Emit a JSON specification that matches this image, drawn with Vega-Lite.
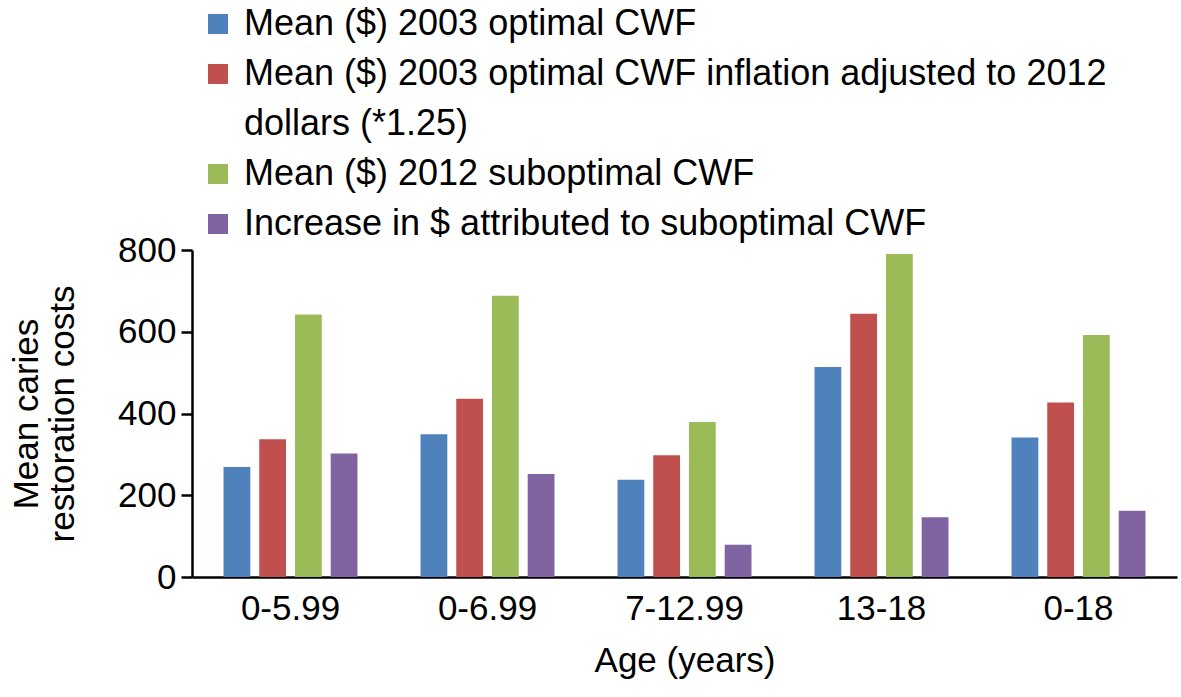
{
  "$schema": "https://vega.github.io/schema/vega-lite/v6.json",
  "width": 985,
  "height": 327,
  "autosize": {"type": "none"},
  "padding": {"left": 192, "top": 250, "right": 4, "bottom": 120},
  "background": "white",
  "data": {
    "values": [
      {"age": "0-5.99", "series": "Mean ($) 2003 optimal CWF", "value": 269},
      {"age": "0-5.99", "series": "Mean ($) 2003 optimal CWF inflation adjusted to 2012 dollars (*1.25)", "value": 337},
      {"age": "0-5.99", "series": "Mean ($) 2012 suboptimal CWF", "value": 642},
      {"age": "0-5.99", "series": "Increase in $ attributed to suboptimal CWF", "value": 302},
      {"age": "0-6.99", "series": "Mean ($) 2003 optimal CWF", "value": 349},
      {"age": "0-6.99", "series": "Mean ($) 2003 optimal CWF inflation adjusted to 2012 dollars (*1.25)", "value": 436},
      {"age": "0-6.99", "series": "Mean ($) 2012 suboptimal CWF", "value": 688},
      {"age": "0-6.99", "series": "Increase in $ attributed to suboptimal CWF", "value": 252},
      {"age": "7-12.99", "series": "Mean ($) 2003 optimal CWF", "value": 238},
      {"age": "7-12.99", "series": "Mean ($) 2003 optimal CWF inflation adjusted to 2012 dollars (*1.25)", "value": 298},
      {"age": "7-12.99", "series": "Mean ($) 2012 suboptimal CWF", "value": 379},
      {"age": "7-12.99", "series": "Increase in $ attributed to suboptimal CWF", "value": 79},
      {"age": "13-18", "series": "Mean ($) 2003 optimal CWF", "value": 514},
      {"age": "13-18", "series": "Mean ($) 2003 optimal CWF inflation adjusted to 2012 dollars (*1.25)", "value": 644},
      {"age": "13-18", "series": "Mean ($) 2012 suboptimal CWF", "value": 790},
      {"age": "13-18", "series": "Increase in $ attributed to suboptimal CWF", "value": 146},
      {"age": "0-18", "series": "Mean ($) 2003 optimal CWF", "value": 341},
      {"age": "0-18", "series": "Mean ($) 2003 optimal CWF inflation adjusted to 2012 dollars (*1.25)", "value": 427},
      {"age": "0-18", "series": "Mean ($) 2012 suboptimal CWF", "value": 592},
      {"age": "0-18", "series": "Increase in $ attributed to suboptimal CWF", "value": 162}
    ]
  },
  "mark": {"type": "bar"},
  "encoding": {
    "x": {
      "field": "age",
      "type": "nominal",
      "sort": ["0-5.99", "0-6.99", "7-12.99", "13-18", "0-18"],
      "scale": {"paddingInner": 0.32, "paddingOuter": 0.16},
      "axis": {
        "title": "Age (years)",
        "labelAngle": 0,
        "ticks": false,
        "labelPadding": 14,
        "titlePadding": 17
      }
    },
    "xOffset": {
      "field": "series",
      "type": "nominal",
      "sort": [
        "Mean ($) 2003 optimal CWF",
        "Mean ($) 2003 optimal CWF inflation adjusted to 2012 dollars (*1.25)",
        "Mean ($) 2012 suboptimal CWF",
        "Increase in $ attributed to suboptimal CWF"
      ],
      "scale": {"paddingInner": 0.25, "paddingOuter": 0}
    },
    "y": {
      "field": "value",
      "type": "quantitative",
      "scale": {"domain": [0, 800], "nice": false},
      "axis": {
        "values": [0, 200, 400, 600, 800],
        "grid": false,
        "title": ["Mean caries", "restoration costs"],
        "titleLineHeight": 36,
        "titlePadding": 37,
        "tickSize": 11,
        "tickWidth": 2.5,
        "labelPadding": 5
      }
    },
    "color": {
      "field": "series",
      "type": "nominal",
      "scale": {
        "domain": [
          "Mean ($) 2003 optimal CWF",
          "Mean ($) 2003 optimal CWF inflation adjusted to 2012 dollars (*1.25)",
          "Mean ($) 2012 suboptimal CWF",
          "Increase in $ attributed to suboptimal CWF"
        ],
        "range": ["#4F81BD", "#C0504D", "#9BBB59", "#8064A2"]
      },
      "legend": {
        "title": null,
        "orient": "none",
        "legendX": 8,
        "legendY": -244,
        "symbolType": "square",
        "symbolSize": 400,
        "symbolStrokeWidth": 0,
        "labelOffset": 8,
        "rowPadding": 14,
        "labelLimit": 2000,
        "padding": 0,
        "labelExpr": "datum.label == 'Mean ($) 2003 optimal CWF inflation adjusted to 2012 dollars (*1.25)' ? ['Mean ($) 2003 optimal CWF inflation adjusted to 2012', 'dollars (*1.25)'] : datum.label"
      }
    }
  },
  "config": {
    "view": {"stroke": null},
    "font": "Liberation Sans",
    "axis": {
      "labelFont": "Liberation Sans",
      "labelFontSize": 35,
      "labelColor": "black",
      "titleFont": "Liberation Sans",
      "titleFontSize": 35,
      "titleFontWeight": "normal",
      "titleColor": "black",
      "domainColor": "black",
      "domainWidth": 2.5,
      "tickColor": "black"
    },
    "legend": {
      "labelFont": "Liberation Sans",
      "labelFontSize": 36,
      "labelColor": "black"
    },
    "style": {
      "guide-label": {"lineHeight": 50}
    }
  }
}
